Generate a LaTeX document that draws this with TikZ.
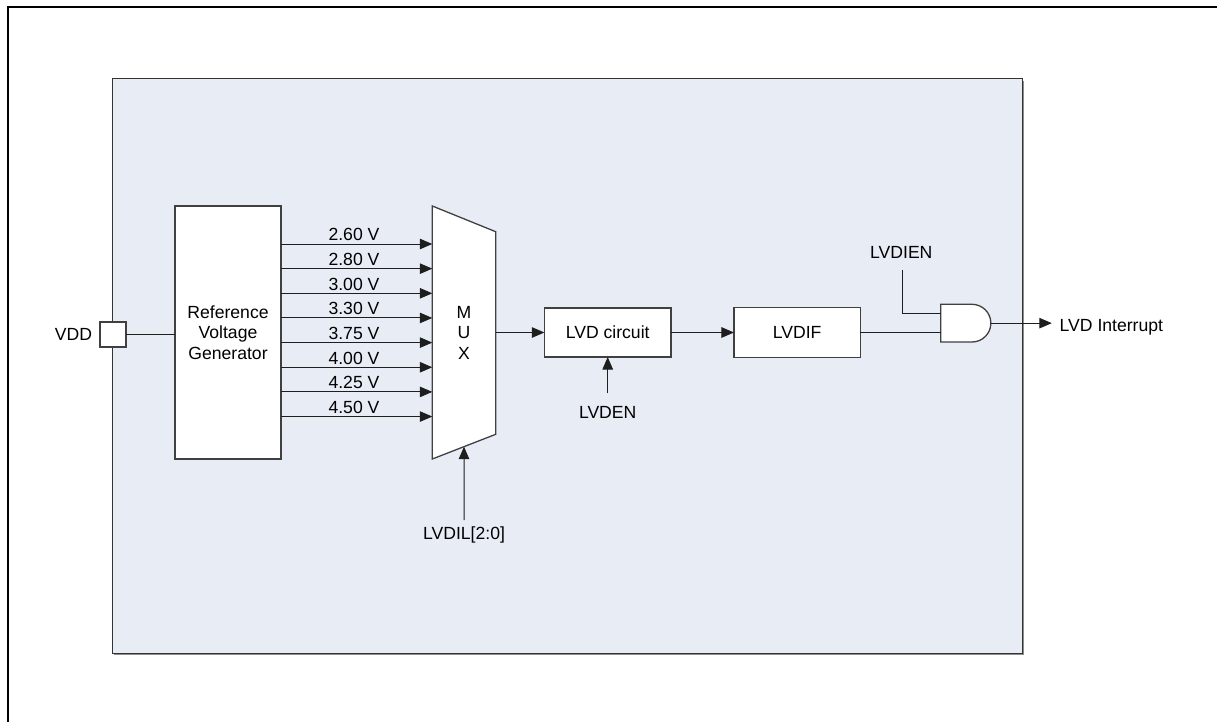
\documentclass[tikz,border=0pt]{standalone}
\usepackage{fontspec}
\setmainfont{Liberation Sans}
\usetikzlibrary{arrows.meta,calc}
\definecolor{panel}{RGB}{232,236,244}
\definecolor{edge}{RGB}{64,64,64}
\definecolor{wirec}{RGB}{30,30,30}
\begin{document}
\begin{tikzpicture}[x=1pt,y=-1pt,
  lbl/.style={font=\fontsize{17.6}{20}\selectfont, inner sep=0pt, outer sep=0pt,
              text height=12.6pt, text depth=0pt},
  blk/.style={draw=edge, line width=1.3pt, fill=white, font=\fontsize{17.6}{20.5}\selectfont,
              align=center, inner sep=0pt, outer sep=0pt},
  wire/.style={draw=wirec, line width=1pt},
  arr/.style={wire, -{Triangle[length=12.5pt,width=10.5pt]}}]
\useasboundingbox (0,0) rectangle (1217,722);
\clip (0,0) rectangle (1217,722);

% outer frame (runs off the page on the right and at the bottom)
\draw[line width=2pt] (7.5,760) -- (7.5,7) -- (1260,7);

% shaded panel with a soft drop shadow
\fill[black!45] (114,81) rectangle (1024,655);
\filldraw[fill=panel, draw=black!80, line width=1pt] (112,79) rectangle (1022,653);

% supply pin
\node[blk, minimum width=26pt, minimum height=25pt] (vdd) at (113,334.5) {};
\node[lbl, anchor=east] (vddl) at (92,334.5) {VDD};

% reference generator
\node[blk, minimum width=106pt, minimum height=253pt] (ref) at (228,332.5)
  {Reference\\Voltage\\Generator};
\draw[wire] (vdd.east) -- (vdd.east -| ref.west);

% multiplexer
\coordinate (mtl) at (432.3,206);
\coordinate (mbl) at (432.3,459);
\coordinate (mtr) at (495.7,231.7);
\coordinate (mbr) at (495.7,434.3);
\filldraw[fill=white, draw=edge, line width=1.3pt] (mtl) -- (mtr) -- (mbr) -- (mbl) -- cycle;
\node[blk, draw=none, fill=none] (muxt) at (464,332.5) {M\\U\\X};

% threshold taps
\foreach \v [count=\i from 0] in {2.60,2.80,3.00,3.30,3.75,4.00,4.25,4.50} {
  \path (ref.north east) ++(0,{38+24.65*\i}) coordinate (src\i);
  \draw[arr] (src\i) -- (src\i -| mtl);
  \path (src\i) ++(73,-9.5) node[lbl] (lv\i) {\v\ V};
}

% select input
\coordinate (selpt) at ($(mbl)!0.5!(mbr)$);
\coordinate (selin) at (464,520);
\draw[arr] (selin) -- (selpt);
\node[lbl] (sell) at (464,533.3) {LVDIL[2:0]};

% detector
\node[blk, minimum width=126.7pt, minimum height=49pt] (lvd) at (607.7,332.5) {LVD circuit};
\coordinate (mout) at (495.7,332.5);
\draw[arr] (mout) -- (lvd.west);
\coordinate (enin) at (607.7,393.3);
\draw[arr] (enin) -- (lvd.south);
\node[lbl] (enl) at (607.7,411.7) {LVDEN};

% flag
\node[blk, minimum width=126.5pt, minimum height=49.6pt] (lvdif) at (797.2,332.5) {LVDIF};
\draw[arr] (lvd.east) -- (lvdif.west);

% AND gate
\filldraw[fill=white, draw=edge, line width=1.3pt]
  (940.7,304.3) -- (972,304.3) arc[start angle=-90, end angle=90, radius=18.85]
  -- (940.7,342) -- cycle;
\coordinate (gin1) at (940.7,313.7);
\coordinate (gin2) at (940.7,332.5);
\coordinate (gout) at (990.85,323.15);
\draw[wire] (lvdif.east) -- (gin2);
\coordinate (ientop) at (902,270);
\draw[wire] (ientop) |- (gin1);
\node[lbl] (ienl) at (901.3,252.4) {LVDIEN};

% interrupt output
\node[lbl, anchor=west] (irq) at (1059.7,325) {LVD Interrupt};
\draw[arr, shorten >=7.9pt] (gout) -- (gout -| irq.west);
\end{tikzpicture}
\end{document}
